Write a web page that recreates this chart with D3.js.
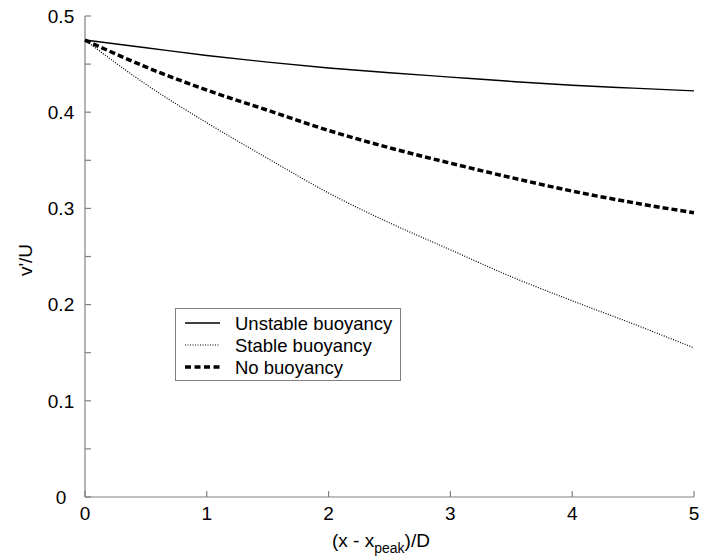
<!DOCTYPE html>
<html><head><meta charset="utf-8">
<script src="https://cdn.jsdelivr.net/npm/d3@7/dist/d3.min.js"></script>
<style>body{margin:0;background:#fff}svg{display:block;font-family:Arial,"Liberation Sans",sans-serif}</style>
</head><body><svg id="c" width="701" height="558"></svg>
<script>
const xs = [0, 0.5, 1, 1.5, 2, 2.5, 3, 3.5, 4, 4.5, 5];
const unstable = [0.475, 0.467, 0.459, 0.452, 0.446, 0.441, 0.4365, 0.432, 0.428, 0.425, 0.4222];
const stable = [0.475, 0.429, 0.389, 0.352, 0.316, 0.285, 0.257, 0.229, 0.204, 0.180, 0.155];
const noBuoy = [0.475, 0.447, 0.423, 0.402, 0.381, 0.363, 0.347, 0.332, 0.318, 0.306, 0.2955];
const xTicks = [0, 1, 2, 3, 4, 5];
const yTicks = [0, 0.1, 0.2, 0.3, 0.4, 0.5];
const yMinor = [0.05, 0.15, 0.25, 0.35, 0.45];
const seriesNames = ["Unstable buoyancy", "Stable buoyancy", "No buoyancy"];

const svg = d3.select("#c");
const x = d3.scaleLinear().domain([0, 5]).range([85, 694]);
const y = d3.scaleLinear().domain([0, 0.5]).range([497, 16]);
const axisCol = "#808080";

// axes lines
svg.append("line").attr("x1", x(0)).attr("x2", x(5)).attr("y1", y(0)).attr("y2", y(0)).attr("stroke", axisCol).attr("stroke-width", 1.2);
svg.append("line").attr("x1", x(0)).attr("x2", x(0)).attr("y1", y(0)).attr("y2", y(0.5)).attr("stroke", axisCol).attr("stroke-width", 1.2);

// y ticks
svg.selectAll(".yt").data(yTicks.concat(yMinor)).enter().append("line")
  .attr("x1", x(0)).attr("x2", x(0) + 6).attr("y1", d => y(d)).attr("y2", d => y(d))
  .attr("stroke", axisCol).attr("stroke-width", 1.2);
svg.selectAll(".yl").data(yTicks).enter().append("text")
  .attr("x", 61).attr("y", d => y(d)).attr("dy", "0.36em").attr("text-anchor", "middle")
  .attr("font-size", 19).attr("fill", "#000").text(d => d === 0 ? "0" : d3.format(".1f")(d));

// x ticks
svg.selectAll(".xt").data(xTicks).enter().append("line")
  .attr("x1", d => x(d)).attr("x2", d => x(d)).attr("y1", y(0)).attr("y2", y(0) - 6)
  .attr("stroke", axisCol).attr("stroke-width", 1.2);
svg.selectAll(".xl").data(xTicks).enter().append("text")
  .attr("x", d => x(d)).attr("y", 520).attr("text-anchor", "middle")
  .attr("font-size", 19).attr("fill", "#000").text(d => d);

// axis titles
const xt = svg.append("text").attr("x", 332).attr("y", 547).attr("font-size", 19).attr("fill", "#000");
xt.append("tspan").text("(x - x");
xt.append("tspan").attr("font-size", 14).attr("dy", 6).text("peak");
xt.append("tspan").attr("dy", -6).text(")/D");

svg.append("text").attr("transform", "translate(32,260) rotate(-90)").attr("text-anchor", "middle")
  .attr("font-size", 19).attr("fill", "#000").text("v'/U");

// lines
const line = vals => d3.line().x((d, i) => x(xs[i])).y(d => y(d)).curve(d3.curveMonotoneX)(vals);
const styles = [
  {w: 1.4, dash: null},
  {w: 1.2, dash: "1,1.5"},
  {w: 3.5, dash: "6,3"}
];
[unstable, stable, noBuoy].forEach((vals, i) => {
  svg.append("path").attr("d", line(vals)).attr("fill", "none").attr("stroke", "#000")
    .attr("stroke-width", styles[i].w).attr("stroke-dasharray", styles[i].dash);
});

// legend
const lg = svg.append("g");
lg.append("rect").attr("x", 175.5).attr("y", 308.5).attr("width", 225).attr("height", 72)
  .attr("fill", "#fff").attr("stroke", axisCol).attr("stroke-width", 1);
seriesNames.forEach((n, i) => {
  const cy = 323 + i * 22;
  lg.append("line").attr("x1", 185).attr("x2", 220).attr("y1", cy).attr("y2", cy)
    .attr("stroke", "#000").attr("stroke-width", styles[i].w).attr("stroke-dasharray", i === 2 ? "6,3.5" : styles[i].dash);
  lg.append("text").attr("x", 235).attr("y", cy).attr("dy", "0.36em").attr("font-size", 18.5)
    .attr("fill", "#000").text(n);
});
</script></body></html>
